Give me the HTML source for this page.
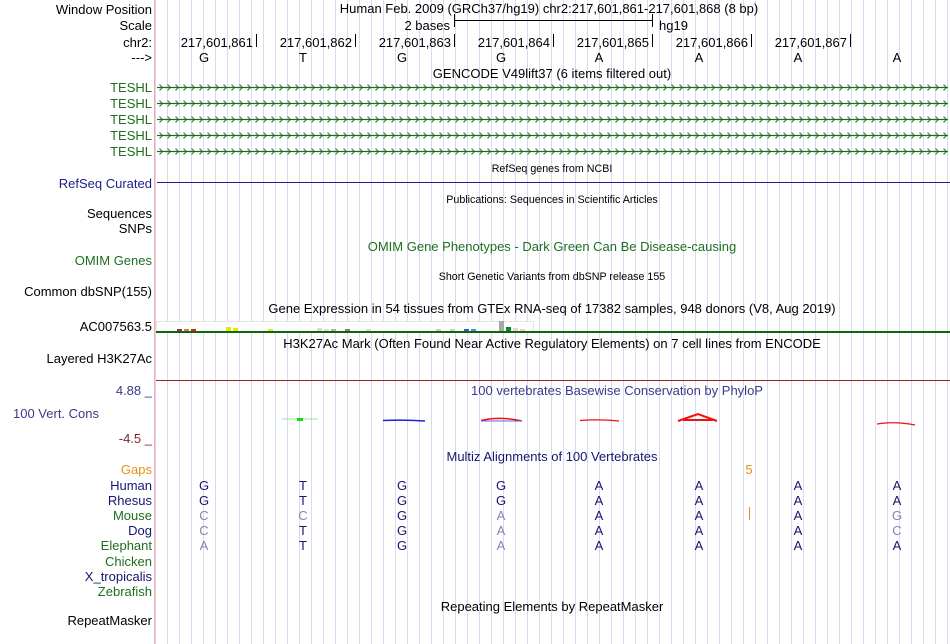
<!DOCTYPE html>
<html><head><meta charset="utf-8"><style>
html,body{margin:0;padding:0;background:#fff;}
svg{display:block;font-family:"Liberation Sans",sans-serif;}
</style></head><body>
<svg width="950" height="644" viewBox="0 0 950 644" xmlns="http://www.w3.org/2000/svg">
<defs>
<pattern id="grid" patternUnits="userSpaceOnUse" x="155" y="0" width="12" height="10">
<rect x="0" y="0" width="1" height="10" fill="#d9d9f4"/>
</pattern>
<pattern id="chevA" patternUnits="userSpaceOnUse" x="157" y="84" width="8" height="16">
<path d="M2.5,0.5 L5.5,3.5 L2.5,6.5" fill="none" stroke="#1a6a1a" stroke-width="0.9"/>
</pattern>
</defs>
<rect x="0" y="0" width="950" height="644" fill="#fff"/>
<rect x="155" y="0" width="795" height="644" fill="url(#grid)"/>
<rect x="154" y="0" width="1" height="644" fill="#f4a8a8"/>

<g font-size="13" text-anchor="end" fill="#000">
<text x="152" y="14">Window Position</text>
<text x="152" y="30">Scale</text>
<text x="152" y="47">chr2:</text>
<text x="152" y="62">---&gt;</text>
<g fill="#1e6e1e">
<text x="152" y="92">TESHL</text>
<text x="152" y="108">TESHL</text>
<text x="152" y="124">TESHL</text>
<text x="152" y="140">TESHL</text>
<text x="152" y="156">TESHL</text>
</g>
<text x="152" y="188" fill="#1c1c8c">RefSeq Curated</text>
<text x="152" y="218">Sequences</text>
<text x="152" y="233">SNPs</text>
<text x="152" y="265" fill="#1e6e1e">OMIM Genes</text>
<text x="152" y="296">Common dbSNP(155)</text>
<text x="152" y="331">AC007563.5</text>
<text x="152" y="363">Layered H3K27Ac</text>
<text x="152" y="395" fill="#3a3a8c">4.88 _</text>
<text x="13" y="418" text-anchor="start" fill="#3a3a8c">100 Vert. Cons</text>
<text x="152" y="443" fill="#7a2a2a">-4.5 _</text>
<text x="152" y="474" fill="#e8901a">Gaps</text>
<text x="152" y="490" fill="#16166e">Human</text>
<text x="152" y="505" fill="#16166e">Rhesus</text>
<text x="152" y="520" fill="#1e6e1e">Mouse</text>
<text x="152" y="535" fill="#16166e">Dog</text>
<text x="152" y="550" fill="#1e6e1e">Elephant</text>
<text x="152" y="566" fill="#1e6e1e">Chicken</text>
<text x="152" y="581" fill="#16166e">X_tropicalis</text>
<text x="152" y="596" fill="#1e6e1e">Zebrafish</text>
<text x="152" y="625">RepeatMasker</text>
</g>

<g font-size="13" fill="#000">
<text x="549" y="13" text-anchor="middle">Human Feb. 2009 (GRCh37/hg19)   chr2:217,601,861-217,601,868 (8 bp)</text>
<text x="450" y="30" text-anchor="end">2 bases</text>
<text x="659" y="30">hg19</text>
</g>
<g stroke="#000" stroke-width="1">
<line x1="454" y1="20.5" x2="652" y2="20.5"/>
<line x1="454.5" y1="14" x2="454.5" y2="27"/>
<line x1="652.5" y1="14" x2="652.5" y2="27"/>
</g>
<g font-size="13" text-anchor="end" fill="#000">
<text x="253" y="47">217,601,861</text>
<text x="352" y="47">217,601,862</text>
<text x="451" y="47">217,601,863</text>
<text x="550" y="47">217,601,864</text>
<text x="649" y="47">217,601,865</text>
<text x="748" y="47">217,601,866</text>
<text x="847" y="47">217,601,867</text>
</g>
<g stroke="#000">
<line x1="256.5" y1="34" x2="256.5" y2="47"/>
<line x1="355.5" y1="34" x2="355.5" y2="47"/>
<line x1="454.5" y1="34" x2="454.5" y2="47"/>
<line x1="553.5" y1="34" x2="553.5" y2="47"/>
<line x1="652.5" y1="34" x2="652.5" y2="47"/>
<line x1="751.5" y1="34" x2="751.5" y2="47"/>
<line x1="850.5" y1="34" x2="850.5" y2="47"/>
</g>
<g font-size="13" text-anchor="middle" fill="#000">
<text x="204" y="62">G</text><text x="303" y="62">T</text><text x="402" y="62">G</text><text x="501" y="62">G</text>
<text x="599" y="62">A</text><text x="699" y="62">A</text><text x="798" y="62">A</text><text x="897" y="62">A</text>
<text x="552" y="78">GENCODE V49lift37 (6 items filtered out)</text>
</g>

<g stroke="#1a6e1a" stroke-width="1.2">
<line x1="157" y1="87.5" x2="948" y2="87.5"/>
<line x1="157" y1="103.5" x2="948" y2="103.5"/>
<line x1="157" y1="119.5" x2="948" y2="119.5"/>
<line x1="157" y1="135.5" x2="948" y2="135.5"/>
<line x1="157" y1="151.5" x2="948" y2="151.5"/>
</g>
<rect x="157" y="84" width="791" height="7" fill="url(#chevA)"/>
<rect x="157" y="100" width="791" height="7" fill="url(#chevA)"/>
<rect x="157" y="116" width="791" height="7" fill="url(#chevA)"/>
<rect x="157" y="132" width="791" height="7" fill="url(#chevA)"/>
<rect x="157" y="148" width="791" height="7" fill="url(#chevA)"/>

<g font-size="10.7" text-anchor="middle" fill="#000">
<text x="552" y="172">RefSeq genes from NCBI</text>
<text x="552" y="203">Publications: Sequences in Scientific Articles</text>
<text x="552" y="280">Short Genetic Variants from dbSNP release 155</text>
</g>
<rect x="157" y="182" width="793" height="1" fill="#1c1c8c"/>
<text x="552" y="251" font-size="13" text-anchor="middle" fill="#1e6e1e">OMIM Gene Phenotypes - Dark Green Can Be Disease-causing</text>
<text x="552" y="313" font-size="13" text-anchor="middle" fill="#000">Gene Expression in 54 tissues from GTEx RNA-seq of 17382 samples, 948 donors (V8, Aug 2019)</text>

<rect x="156.5" y="321.5" width="377" height="10" fill="#fff" stroke="#e4e4e4"/>
<g>
<rect x="177" y="329" width="5" height="2" fill="#8b2a6a"/>
<rect x="184" y="329" width="5" height="2" fill="#f07050"/>
<rect x="191" y="329" width="5" height="2" fill="#e02020"/>
<rect x="226" y="327" width="5" height="4" fill="#e8e800"/>
<rect x="233" y="328" width="5" height="3" fill="#e8e800"/>
<rect x="268" y="329" width="5" height="2" fill="#e8e800"/>
<rect x="317" y="328" width="5" height="3" fill="#f0d0d0"/>
<rect x="324" y="329" width="5" height="2" fill="#e8d8d0"/>
<rect x="331" y="329" width="5" height="2" fill="#c8b0a0"/>
<rect x="345" y="329" width="5" height="2" fill="#9a7a60"/>
<rect x="366" y="329" width="5" height="2" fill="#f0d0d0"/>
<rect x="436" y="329" width="5" height="2" fill="#f8b8c0"/>
<rect x="450" y="329" width="5" height="2" fill="#a8e8a8"/>
<rect x="464" y="329" width="5" height="2" fill="#3060d0"/>
<rect x="471" y="329" width="5" height="2" fill="#4090f0"/>
<rect x="499" y="321" width="5" height="10" fill="#a8a8a8"/>
<rect x="506" y="327" width="5" height="4" fill="#108040"/>
<rect x="513" y="328" width="5" height="3" fill="#f0d0d0"/>
<rect x="520" y="329" width="5" height="2" fill="#f0d0d0"/>
</g>
<rect x="156" y="331" width="794" height="2" fill="#0a6a0a"/>
<text x="552" y="348" font-size="13" text-anchor="middle" fill="#000">H3K27Ac Mark (Often Found Near Active Regulatory Elements) on 7 cell lines from ENCODE</text>
<rect x="156" y="380" width="794" height="1" fill="#8b2a20"/>
<text x="617" y="395" font-size="13" text-anchor="middle" fill="#3a3a8c">100 vertebrates Basewise Conservation by PhyloP</text>
<g>
<line x1="282" y1="419" x2="318" y2="419" stroke="#90e890" stroke-width="1"/>
<rect x="297" y="418" width="6" height="3" fill="#10e010"/>
<path d="M383,420.5 Q404,419.5 425,421" stroke="#2020d0" stroke-width="1.5" fill="none"/>
<path d="M481,420.5 Q500,416 522,421" stroke="#f01010" stroke-width="1.5" fill="none"/>
<path d="M481,421 L522,421" stroke="#6060e0" stroke-width="1"/>
<path d="M580,420.5 Q600,419 619,421" stroke="#f01010" stroke-width="1.2" fill="none"/>
<path d="M678,421 L698,414 L717,421 M683,420 L713,420" stroke="#f01010" stroke-width="2" fill="none"/>
<path d="M877,424 Q896,421 915,425" stroke="#f01010" stroke-width="1.2" fill="none"/>
</g>
<text x="552" y="461" font-size="13" text-anchor="middle" fill="#16166e">Multiz Alignments of 100 Vertebrates</text>
<text x="749" y="474" font-size="13" text-anchor="middle" fill="#e8901a">5</text>
<rect x="749" y="507" width="1" height="13" fill="#e8901a"/>
<g font-size="13" text-anchor="middle" fill="#16166e">
<text x="204" y="490">G</text><text x="303" y="490">T</text><text x="402" y="490">G</text><text x="501" y="490">G</text><text x="599" y="490">A</text><text x="699" y="490">A</text><text x="798" y="490">A</text><text x="897" y="490">A</text>
<text x="204" y="505">G</text><text x="303" y="505">T</text><text x="402" y="505">G</text><text x="501" y="505">G</text><text x="599" y="505">A</text><text x="699" y="505">A</text><text x="798" y="505">A</text><text x="897" y="505">A</text>
<text x="204" y="520" fill="#8484b4">C</text><text x="303" y="520" fill="#8484b4">C</text><text x="402" y="520">G</text><text x="501" y="520" fill="#8484b4">A</text><text x="599" y="520">A</text><text x="699" y="520">A</text><text x="798" y="520">A</text><text x="897" y="520" fill="#8484b4">G</text>
<text x="204" y="535" fill="#8484b4">C</text><text x="303" y="535">T</text><text x="402" y="535">G</text><text x="501" y="535" fill="#8484b4">A</text><text x="599" y="535">A</text><text x="699" y="535">A</text><text x="798" y="535">A</text><text x="897" y="535" fill="#8484b4">C</text>
<text x="204" y="550" fill="#8484b4">A</text><text x="303" y="550">T</text><text x="402" y="550">G</text><text x="501" y="550" fill="#8484b4">A</text><text x="599" y="550">A</text><text x="699" y="550">A</text><text x="798" y="550">A</text><text x="897" y="550">A</text>
</g>
<text x="552" y="611" font-size="13" text-anchor="middle" fill="#000">Repeating Elements by RepeatMasker</text>
</svg>
</body></html>
